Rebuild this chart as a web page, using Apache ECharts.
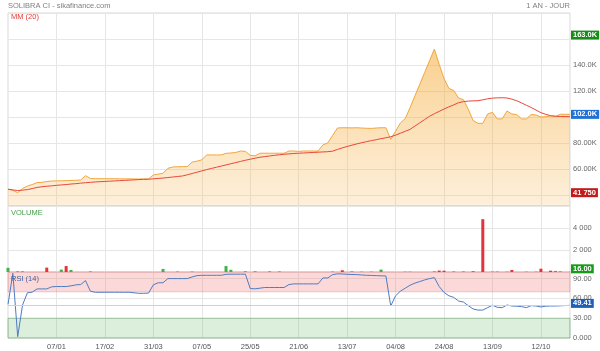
<!DOCTYPE html>
<html>
<head>
<meta charset="utf-8">
<script src="https://cdn.jsdelivr.net/npm/echarts@6/dist/echarts.min.js"></script>
<style>
html, body { margin: 0; padding: 0; background: #fff; }
#chart { width: 600px; height: 351px; }
</style>
</head>
<body>
<div id="chart"></div>
<script>
// séances (une catégorie par séance cotée)
const dates = [
  '28/10', '04/11', '12/11', '19/11', '26/11', '03/12', '10/12', '17/12', '24/12', '31/12',
  '07/01', '11/01', '15/01', '20/01', '24/01', '28/01', '31/01', '05/02', '10/02', '13/02',
  '17/02', '21/02', '25/02', '01/03', '05/03', '10/03', '14/03', '18/03', '22/03', '26/03',
  '31/03', '04/04', '08/04', '11/04', '15/04', '19/04', '23/04', '26/04', '30/04', '03/05',
  '07/05', '09/05', '10/05', '13/05', '14/05', '16/05', '17/05', '20/05', '21/05', '23/05',
  '25/05', '28/05', '31/05', '03/06', '05/06', '07/06', '11/06', '13/06', '17/06', '19/06',
  '21/06', '24/06', '26/06', '28/06', '01/07', '03/07', '05/07', '08/07', '10/07', '11/07',
  '13/07', '16/07', '18/07', '20/07', '22/07', '24/07', '26/07', '29/07', '31/07', '02/08',
  '04/08', '06/08', '08/08', '10/08', '12/08', '14/08', '16/08', '19/08', '21/08', '22/08',
  '24/08', '26/08', '28/08', '30/08', '01/09', '03/09', '05/09', '07/09', '09/09', '11/09',
  '13/09', '16/09', '19/09', '22/09', '25/09', '28/09', '01/10', '04/10', '07/10', '10/10',
  '12/10', '15/10', '17/10', '19/10', '22/10', '24/10', '26/10'
]

// cours de clôture (FCFA)
const close = [
  44400, 43500, 41750, 45000, 46900, 48000, 49500, 49700, 50300, 50700,
  50800, 50900, 51000, 51100, 51300, 51500, 54800, 52700, 52500, 52500,
  52500, 52500, 52500, 52400, 52400, 52400, 52300, 52300, 52300, 52300,
  55400, 56000, 56700, 60500, 61500, 61700, 61800, 61800, 65300, 66000,
  67000, 70800, 70800, 70800, 70800, 72000, 72300, 72700, 73800, 73500,
  70500, 70100, 72100, 72100, 72100, 72100, 72100, 72100, 73800, 73800,
  73500, 73800, 73800, 73800, 73800, 78500, 80000, 85800, 91500, 91700,
  91700, 91600, 91700, 91500, 91300, 91200, 91500, 91700, 91700, 82800,
  89000, 95400, 98800, 107300, 116300, 125200, 134200, 143200, 152200, 140500,
  129500, 122000, 120400, 114600, 113300, 106000, 97300, 95100, 95100, 102300,
  103600, 98500, 98500, 104600, 102300, 101900, 98500, 98500, 101900, 101500,
  100000, 100200, 100800, 100400, 102100, 102100, 102000
]

// moyenne mobile 20 séances
const ma20 = [
  44400, 43900, 43400, 43700, 44100, 44900, 45800, 46300, 46700, 47000,
  47400, 47700, 48000, 48400, 48700, 49100, 49400, 49700, 50000, 50200,
  50400, 50600, 50800, 51000, 51200, 51400, 51600, 51800, 52000, 52100,
  52400, 52700, 53000, 53400, 53800, 54200, 54600, 55500, 56500, 57500,
  58500, 59500, 60400, 61300, 62200, 63100, 64000, 64900, 65800, 66700,
  67500, 68300, 69000, 69500, 70000, 70500, 70900, 71300, 71600, 71900,
  72100, 72300, 72500, 72700, 72900, 73100, 73300, 73700, 75000, 76200,
  77300, 78300, 79300, 80200, 81000, 81800, 82500, 83300, 84000, 84800,
  86000, 87500, 89000, 90500, 93000, 95500, 98000, 100500, 102500, 104300,
  106100, 107800, 109300, 111000, 111800, 112200, 112400, 112500, 113200, 114000,
  114500, 114700, 114800, 114600, 113700, 112500, 110800, 109000, 107300, 105300,
  103300, 102000, 101000, 100600, 100400, 100300, 100200
]

const volume = [
  380, 0, 60, 60, 0, 0, 0, 0, 400, 0,
  0, 220, 540, 180, 0, 0, 0, 40, 0, 0,
  0, 0, 0, 0, 0, 0, 0, 0, 0, 0,
  0, 0, 280, 0, 0, 40, 0, 0, 40, 0,
  0, 0, 0, 0, 0, 540, 200, 0, 0, 50,
  0, 50, 0, 0, 60, 0, 40, 0, 0, 0,
  0, 0, 0, 0, 0, 0, 0, 40, 0, 160,
  0, 60, 0, 30, 0, 30, 0, 220, 0, 0,
  0, 0, 30, 30, 0, 0, 0, 0, 60, 130,
  120, 0, 40, 0, 40, 0, 70, 0, 4800, 0,
  40, 40, 0, 30, 180, 0, 0, 30, 0, 30,
  300, 0, 120, 100, 60, 0, 16
]
// séances en baisse (barres rouges)
const downDays = [8, 12, 17, 49, 51, 56, 69, 89, 90, 92, 94, 96, 98, 104, 110, 112]

const rsi = [
  51, 98, 2, 50, 68.5, 69.5, 74.4, 74.4, 74.4, 77.5,
  78, 78, 78, 79, 80.5, 81, 87, 71, 69.3, 69.3,
  69.3, 69.3, 69.3, 69.3, 69.3, 69.3, 68.5, 67.7, 67.7, 68,
  80.6, 83.7, 83.7, 90, 90, 90, 90, 90, 92.5, 94.5,
  95, 95, 95, 95, 95, 96.5, 96.7, 96.7, 96.7, 96.7,
  75, 74.5, 75.5, 76.5, 76.5, 76.5, 76.5, 76.5, 81, 82,
  82, 82, 82, 82, 82, 91, 91, 96, 97.2, 97,
  96.5, 96.2, 96, 95.5, 95, 94.8, 94.5, 94.2, 94, 48.5,
  64, 71, 75.5, 80, 83.2, 85.5, 88, 90, 91.5, 78,
  69, 64, 61.5, 56, 54.5, 49, 44, 42.3, 42.3, 46,
  49.6, 46.5, 46, 50, 48.5, 48.2, 47.5, 46, 49, 48.5,
  47, 48.2, 48.5, 48.5, 48.8, 49.2, 49.41
]

const periodHigh = 163000
const periodLow = 41750
const lastClose = close[close.length - 1]

const font = 'Liberation Sans, Arial, sans-serif'
const fs = 7.5
const gridLine = { lineStyle: { color: '#e6e6e6', width: 1 } }
const every10 = (idx) => idx > 0 && idx % 10 === 0

const kfmt = (v) => (v / 1000).toPrecision(4) + 'K'
const spaced = (v) => String(Math.round(v)).replace(/\B(?=(\d{3})+(?!\d))/g, ' ')
// les étiquettes couvertes par les cartouches ne sont pas affichées
const priceTick = (v) => [periodHigh, lastClose, periodLow].some(b => Math.abs(b - v) < 6000) ? '' : kfmt(v)

function box (text, bg, dy) {
  return {
    show: true,
    position: 'end',
    distance: 1,
    formatter: text,
    color: '#fff',
    backgroundColor: bg,
    padding: [1, 2, 0, 2],
    fontSize: fs,
    fontWeight: 'bold',
    fontFamily: font,
    offset: [0, dy || 0]
  }
}

function title (text, left, top, color, right) {
  const t = {
    text: text,
    top: top,
    padding: 0,
    textStyle: { color: color, fontSize: fs, fontWeight: 'normal', fontFamily: font }
  }
  if (right !== undefined) t.right = right
  else t.left = left
  return t
}

const axisText = { color: '#666', fontSize: fs, fontFamily: font, margin: 3, padding: [0, 0, 3, 0] }
const hidden = { color: 'transparent', width: 0 }

const chart = echarts.init(document.getElementById('chart'), null, { renderer: 'canvas' })

const option = {
  animation: false,
  backgroundColor: '#fff',
  title: [
    title('SOLIBRA CI - sikafinance.com', 8, 2, '#808080'),
    title('1 AN - JOUR', null, 2, '#808080', 30),
    title('MM (20)', 11, 13, '#e53935'),
    title('VOLUME', 11, 209, '#43a047'),
    title('RSI (14)', 11, 275, '#3f5f9f')
  ],
  grid: [
    { left: 8, right: 30, top: 13, height: 193, show: true, borderColor: '#d9d9d9', backgroundColor: '#fff' },
    { left: 8, right: 30, top: 206, height: 66, show: true, borderColor: '#d9d9d9', backgroundColor: '#fff' },
    { left: 8, right: 30, top: 272, height: 66, show: true, borderColor: '#d9d9d9', backgroundColor: '#fff' }
  ],
  xAxis: [0, 1, 2].map(i => ({
    type: 'category',
    gridIndex: i,
    data: dates,
    boundaryGap: false,
    axisLine: { show: false },
    axisTick: { show: false, interval: every10 },
    axisLabel: { show: i === 2, interval: every10, color: '#555', fontSize: fs, fontFamily: font, margin: 5 },
    splitLine: Object.assign({ show: true, interval: every10 }, gridLine)
  })),
  yAxis: [
    {
      type: 'value',
      gridIndex: 0,
      position: 'right',
      min: 31500,
      max: 180000,
      splitNumber: 7,
      axisLine: { show: false },
      axisTick: { show: false },
      axisLabel: Object.assign({ formatter: priceTick, showMinLabel: false, showMaxLabel: false }, axisText),
      splitLine: gridLine
    },
    {
      type: 'value',
      gridIndex: 1,
      position: 'right',
      min: 0,
      max: 6000,
      interval: 2000,
      axisLine: { show: false },
      axisTick: { show: false },
      axisLabel: Object.assign({ formatter: spaced, showMinLabel: false, showMaxLabel: false }, axisText),
      splitLine: gridLine
    },
    {
      type: 'value',
      gridIndex: 2,
      position: 'right',
      min: 0,
      max: 100,
      interval: 30,
      axisLine: { show: false },
      axisTick: { show: false },
      axisLabel: Object.assign({ formatter: (v) => v.toPrecision(4), showMaxLabel: false }, axisText),
      splitLine: gridLine
    }
  ],
  series: [
    {
      name: 'Cours',
      type: 'line',
      xAxisIndex: 0,
      yAxisIndex: 0,
      data: close,
      symbol: 'none',
      lineStyle: { color: '#f0a73a', width: 1 },
      areaStyle: {
        color: new echarts.graphic.LinearGradient(0, 0, 0, 1, [
          { offset: 0, color: 'rgba(244,165,40,0.75)' },
          { offset: 1, color: 'rgba(248,185,90,0.32)' }
        ])
      },
      markLine: {
        silent: true,
        symbol: 'none',
        lineStyle: hidden,
        data: [
          { yAxis: periodHigh, label: box(kfmt(periodHigh), '#178c17') },
          { yAxis: lastClose, label: box(kfmt(lastClose), '#2170d4') },
          { yAxis: periodLow, label: box(spaced(periodLow), '#c41a1a') }
        ]
      }
    },
    {
      name: 'MM (20)',
      type: 'line',
      xAxisIndex: 0,
      yAxisIndex: 0,
      data: ma20,
      symbol: 'none',
      z: 3,
      lineStyle: { color: '#e8473c', width: 1 }
    },
    {
      name: 'Volume',
      type: 'bar',
      xAxisIndex: 1,
      yAxisIndex: 1,
      data: volume,
      barWidth: 3,
      itemStyle: {
        color: (p) => downDays.includes(p.dataIndex) ? '#e8323a' : '#3fb24a'
      },
      markLine: {
        silent: true,
        symbol: 'none',
        lineStyle: hidden,
        data: [
          { yAxis: volume[volume.length - 1], label: box(volume[volume.length - 1].toFixed(2), '#1a9a1a', -3) }
        ]
      }
    },
    {
      name: 'RSI (14)',
      type: 'line',
      xAxisIndex: 2,
      yAxisIndex: 2,
      data: rsi,
      symbol: 'none',
      z: 4,
      lineStyle: { color: '#4d7cc3', width: 1 },
      markArea: {
        silent: true,
        data: [
          [{ yAxis: 70, itemStyle: { color: 'rgba(246,120,120,0.28)', borderColor: 'rgba(230,110,110,0.35)', borderWidth: 1 } }, { yAxis: 100 }],
          [{ yAxis: 0, itemStyle: { color: 'rgba(80,170,80,0.2)', borderColor: 'rgba(80,160,80,0.45)', borderWidth: 1 } }, { yAxis: 30 }]
        ]
      },
      markLine: {
        silent: true,
        symbol: 'none',
        lineStyle: hidden,
        data: [
          { yAxis: 50, lineStyle: { color: '#bcd4ee', width: 1, type: 'solid' }, label: { show: false } },
          { yAxis: rsi[rsi.length - 1], label: box(rsi[rsi.length - 1].toFixed(2), '#1f5fb8', -2) }
        ]
      }
    }
  ]
}

chart.setOption(option)
</script>
</body>
</html>
